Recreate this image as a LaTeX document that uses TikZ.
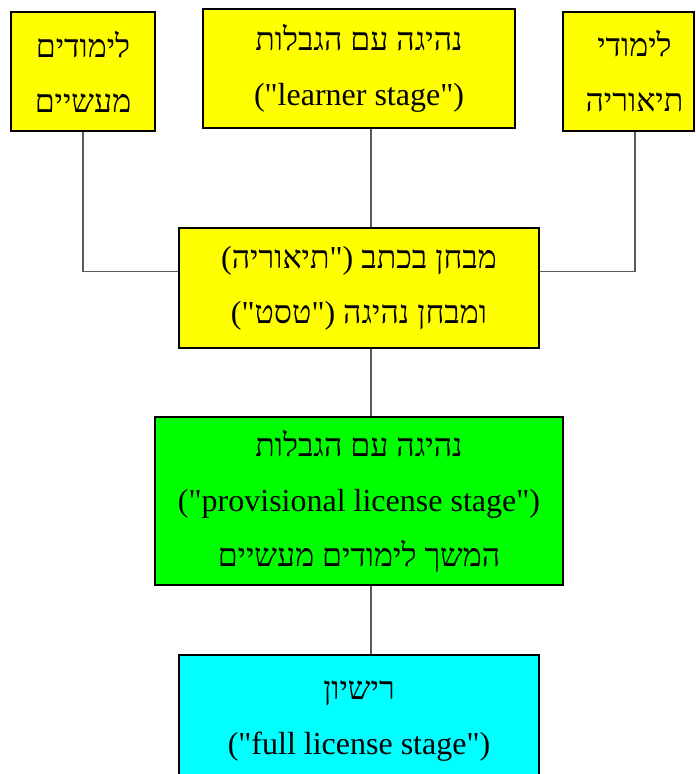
\documentclass[tikz,border=0pt]{standalone}
\usepackage{fontspec}
\setmainfont{Liberation Serif}
\newfontfamily\heb[Script=Hebrew]{Liberation Serif}
\newfontfamily\lat{Liberation Serif}
\TeXXeTstate=1
\newcommand{\hb}[1]{{\heb\beginR #1\endR}}
\newcommand{\dq}{{\lat\symbol{34}}}
\definecolor{byellow}{RGB}{255,255,0}
\definecolor{bgreen}{RGB}{0,255,0}
\definecolor{bcyan}{RGB}{0,255,255}
\definecolor{conn}{RGB}{90,90,90}
\begin{document}
\begin{tikzpicture}[x=1pt,y=-1pt,
  box/.style={draw=black, line width=2pt, inner sep=0pt, align=center,
    font=\fontsize{32}{55}\selectfont},
  link/.style={draw=conn, line width=1.2pt}]
\useasboundingbox (0,0) rectangle (696,774);
% boxes
\node[box, fill=byellow, minimum width=144pt, minimum height=119pt] (tl) at (83,71.5)
  {\hb{לימודים}\\\hb{מעשיים}};
\node[box, fill=byellow, minimum width=312pt, minimum height=119pt] (tc) at (359,68.5)
  {\hb{נהיגה עם הגבלות}\\(\dq learner stage\dq)};
\node[box, fill=byellow, minimum width=131pt, minimum height=119pt] (tr) at (628.5,71.5)
  {\hspace*{12pt}\hb{לימודי}\\\hspace*{12pt}\hb{תיאוריה}};
\node[box, fill=byellow, minimum width=360pt, minimum height=120pt] (mid) at (359,288)
  {(\hb{תיאוריה}\dq) \hb{מבחן בכתב}\\(\dq\hb{טסט}\dq) \hb{ומבחן נהיגה}};
\node[box, fill=bgreen, minimum width=408pt, minimum height=168pt] (gr) at (359,501)
  {\hb{נהיגה עם הגבלות}\\(\dq provisional license stage\dq)\\\hb{המשך לימודים מעשיים}};
\node[box, fill=bcyan, minimum width=360pt, minimum height=132pt] (cy) at (359,721)
  {\hb{רישיון}\\(\dq full license stage\dq)};
% connector guides
\coordinate (vx) at (371,0);
\coordinate (rx) at (635,0);
\coordinate (hy) at (0,271.5);
% connectors
\draw[link] (tl.south) |- (mid.west |- hy);
\draw[link] (tr.south -| rx) |- (mid.east |- hy);
\draw[link] (tc.south -| vx) -- (mid.north -| vx);
\draw[link] (mid.south -| vx) -- (gr.north -| vx);
\draw[link] (gr.south -| vx) -- (cy.north -| vx);
\end{tikzpicture}
\end{document}
